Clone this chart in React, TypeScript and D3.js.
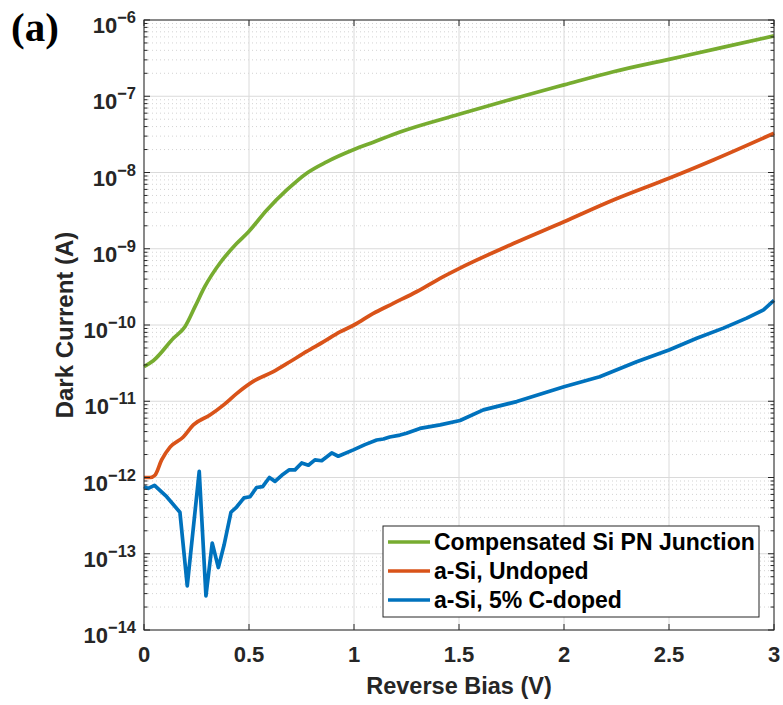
import React from "react";
import * as d3 from "d3";

const greenV = [0, 0.044, 0.14, 0.195, 0.243, 0.29, 0.362, 0.441, 0.497, 0.584, 0.68, 0.775, 0.87, 1.0, 1.092, 1.219, 1.5, 1.759, 2.0, 2.235, 2.5, 2.75, 3.0];
const greenI = [2.85e-11, 3.4e-11, 6.7e-11, 9.5e-11, 1.74e-10, 3.2e-10, 6.5e-10, 1.17e-9, 1.66e-9, 3.2e-9, 5.9e-9, 9.8e-9, 1.38e-8, 2.0e-8, 2.5e-8, 3.4e-8, 5.8e-8, 9.3e-8, 1.41e-7, 2.1e-7, 3.05e-7, 4.34e-7, 6.2e-7];

const orangeV = [0, 0.03, 0.052, 0.084, 0.124, 0.187, 0.235, 0.314, 0.378, 0.441, 0.52, 0.616, 0.695, 0.775, 0.854, 0.933, 1.0, 1.09, 1.187, 1.3, 1.41, 1.5, 1.759, 2.0, 2.235, 2.5, 2.711, 3.0];
const orangeI = [1.0e-12, 1.0e-12, 1.07e-12, 1.7e-12, 2.5e-12, 3.4e-12, 4.9e-12, 6.6e-12, 8.9e-12, 1.26e-11, 1.82e-11, 2.45e-11, 3.3e-11, 4.5e-11, 6.0e-11, 8.1e-11, 1.0e-10, 1.41e-10, 1.92e-10, 2.75e-10, 4.1e-10, 5.5e-10, 1.17e-9, 2.26e-9, 4.35e-9, 8.4e-9, 1.46e-8, 3.27e-8];

const blueV = [0, 0.02, 0.05, 0.108, 0.171, 0.206, 0.263, 0.295, 0.325, 0.354, 0.381, 0.414, 0.441, 0.476, 0.505, 0.536, 0.565, 0.597, 0.624, 0.656, 0.692, 0.719, 0.751, 0.783, 0.814, 0.846, 0.894, 0.925, 0.997, 1.052, 1.108, 1.14, 1.17, 1.219, 1.25, 1.314, 1.41, 1.505, 1.616, 1.775, 2.0, 2.17, 2.346, 2.5, 2.632, 2.759, 2.87, 2.95, 3.0];
const blueI = [7.6e-13, 7.2e-13, 7.9e-13, 5.6e-13, 3.5e-13, 3.8e-14, 1.2e-12, 2.8e-14, 1.38e-13, 6.6e-14, 1.29e-13, 3.5e-13, 4.1e-13, 5.4e-13, 5.6e-13, 7.4e-13, 7.6e-13, 1.0e-12, 8.9e-13, 1.07e-12, 1.26e-12, 1.26e-12, 1.55e-12, 1.45e-12, 1.7e-12, 1.66e-12, 2.1e-12, 1.9e-12, 2.3e-12, 2.7e-12, 3.1e-12, 3.2e-12, 3.4e-12, 3.6e-12, 3.8e-12, 4.4e-12, 4.9e-12, 5.6e-12, 7.7e-12, 9.9e-12, 1.55e-11, 2.1e-11, 3.3e-11, 4.7e-11, 6.7e-11, 9.1e-11, 1.23e-10, 1.58e-10, 2.1e-10];

const seriesNames = ["Compensated Si PN Junction", "a-Si, Undoped", "a-Si, 5% C-doped"];
const seriesColors = ["#77AC30", "#D95319", "#0072BD"];
const xTicks = [0, 0.5, 1, 1.5, 2, 2.5, 3];
const xTickLabels = ["0", "0.5", "1", "1.5", "2", "2.5", "3"];
const yExponents = [-14, -13, -12, -11, -10, -9, -8, -7, -6];

const W = 783, H = 705;
const L = 144, R = 774, T = 20, B = 630;
const FONT = "'Liberation Sans', Arial, sans-serif";

export default function App() {
  const x = d3.scaleLinear().domain([0, 3]).range([L, R]);
  const y = d3.scaleLog().domain([1e-14, 1e-6]).range([B, T]);
  const smooth = d3.line<[number, number]>().x(d => x(d[0])).y(d => y(d[1])).curve(d3.curveMonotoneX);
  const jagged = d3.line<[number, number]>().x(d => x(d[0])).y(d => y(d[1]));
  const series = [
    greenV.map((v, i) => [v, greenI[i]] as [number, number]),
    orangeV.map((v, i) => [v, orangeI[i]] as [number, number]),
    blueV.map((v, i) => [v, blueI[i]] as [number, number]),
  ];
  const minors: number[] = [];
  for (let e = -14; e < -6; e++) for (let k = 2; k <= 9; k++) minors.push(k * Math.pow(10, e));
  const axisColor = "#262626";
  const legX = 383, legY = 526, legW = 376, legH = 91;
  return (
    <div style={{ position: "absolute", left: 0, top: 0 }}>
      <svg width={W} height={H} style={{ display: "block", background: "#fff" }}>
        <rect x={0} y={0} width={W} height={H} fill="#fff" />
        {minors.map((m, i) => (
          <line key={"mg" + i} x1={L} x2={R} y1={y(m)} y2={y(m)} stroke="#c8c8c8" strokeWidth={0.8} strokeDasharray="1,3" />
        ))}
        {yExponents.map(e => (
          <line key={"yg" + e} x1={L} x2={R} y1={y(Math.pow(10, e))} y2={y(Math.pow(10, e))} stroke="#dadada" strokeWidth={1} />
        ))}
        {xTicks.map(t => (
          <line key={"xg" + t} x1={x(t)} x2={x(t)} y1={T} y2={B} stroke="#dadada" strokeWidth={1} />
        ))}
        {series.map((s, i) => (
          <path key={"s" + i} d={(i < 2 ? smooth(s) : jagged(s)) || ""} fill="none" stroke={seriesColors[i]} strokeWidth={3.7} strokeLinejoin="round" />
        ))}
        <rect x={L} y={T} width={R - L} height={B - T} fill="none" stroke={axisColor} strokeWidth={1} />
        {yExponents.map(e => {
          const yy = y(Math.pow(10, e));
          return (
            <g key={"yt" + e}>
              <line x1={L} x2={L + 6} y1={yy} y2={yy} stroke={axisColor} />
              <line x1={R} x2={R - 6} y1={yy} y2={yy} stroke={axisColor} />
            </g>
          );
        })}
        {minors.map((m, i) => (
          <g key={"mt" + i}>
            <line x1={L} x2={L + 3.5} y1={y(m)} y2={y(m)} stroke={axisColor} />
            <line x1={R} x2={R - 3.5} y1={y(m)} y2={y(m)} stroke={axisColor} />
          </g>
        ))}
        {xTicks.map(t => (
          <g key={"xt" + t}>
            <line x1={x(t)} x2={x(t)} y1={B} y2={B - 6} stroke={axisColor} />
            <line x1={x(t)} x2={x(t)} y1={T} y2={T + 6} stroke={axisColor} />
          </g>
        ))}
        {yExponents.map(e => {
          const yy = y(Math.pow(10, e));
          return (
            <text key={"yl" + e} x={136} y={yy + 13} textAnchor="end" fontFamily={FONT} fontWeight="bold" fill="#262626">
              <tspan fontSize={22}>10</tspan>
              <tspan fontSize={16.5} dy={-10}>{"\u2212" + String(Math.abs(e))}</tspan>
            </text>
          );
        })}
        {xTicks.map((t, i) => (
          <text key={"xl" + t} x={x(t)} y={662} textAnchor="middle" fontFamily={FONT} fontWeight="bold" fontSize={22} fill="#262626">
            {xTickLabels[i]}
          </text>
        ))}
        <text x={(L + R) / 2} y={694} textAnchor="middle" fontFamily={FONT} fontWeight="bold" fontSize={23.5} fill="#262626">
          Reverse Bias (V)
        </text>
        <text transform={`translate(73, ${(T + B) / 2}) rotate(-90)`} textAnchor="middle" fontFamily={FONT} fontWeight="bold" fontSize={24} fill="#262626">
          Dark Current (A)
        </text>
        <text x={11} y={41} fontFamily="'Liberation Serif', 'Times New Roman', serif" fontWeight="bold" fontSize={41} fill="#000">
          (a)
        </text>
        <rect x={legX} y={legY} width={legW} height={legH} fill="#fff" stroke={axisColor} strokeWidth={1} />
        {seriesNames.map((n, i) => {
          const yy = legY + 16 + i * 29;
          return (
            <g key={"lg" + i}>
              <line x1={388} x2={430} y1={yy} y2={yy} stroke={seriesColors[i]} strokeWidth={3.7} />
              <text x={434} y={yy + 8} fontFamily={FONT} fontWeight="bold" fontSize={23} fill="#000">
                {n}
              </text>
            </g>
          );
        })}
      </svg>
    </div>
  );
}
